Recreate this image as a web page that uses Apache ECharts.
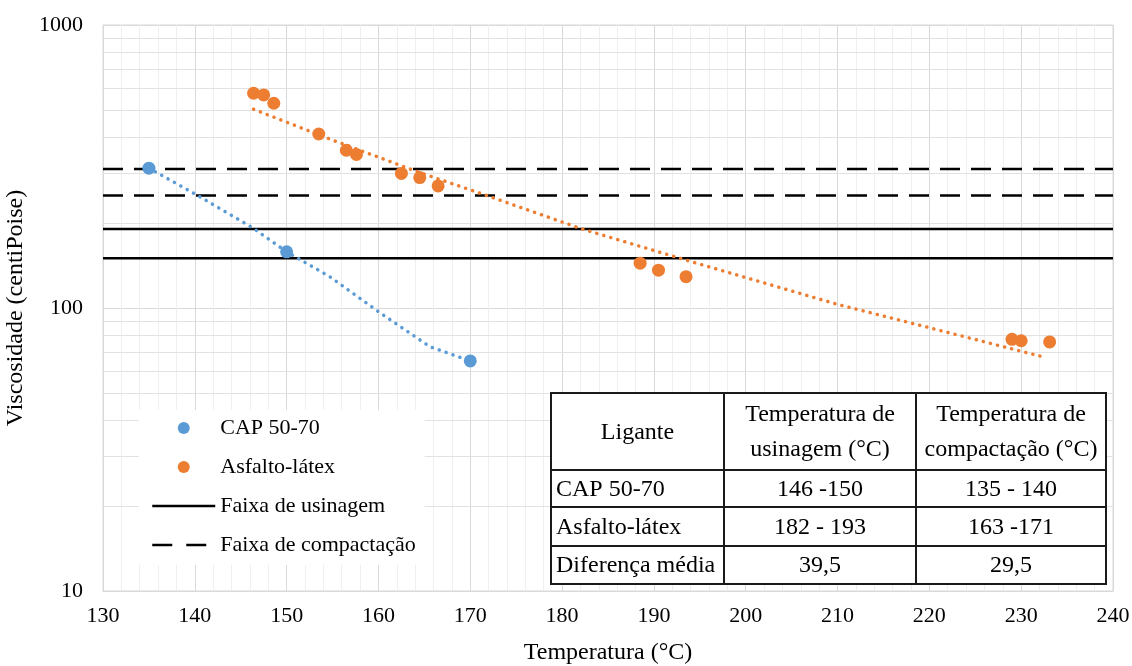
<!DOCTYPE html>
<html>
<head>
<meta charset="utf-8">
<script src="https://cdn.jsdelivr.net/npm/echarts@6/dist/echarts.min.js"></script>
<style>
html,body{margin:0;padding:0;background:#fff;}
#chart{width:1132px;height:666px;}
</style>
</head>
<body>
<div id="chart"></div>
<script>
// ---- data ----
const xTicks = [130, 240, 10];           // min, max, interval of temperature axis
const capTemp = [135, 150, 170];
const capVisc = [312, 158, 65];
const latexTemp = [146.4, 147.5, 148.6, 153.5, 156.5, 157.6, 162.5, 164.5, 166.5, 188.5, 190.5, 193.5, 229.0, 230.0, 233.1];
const latexVisc = [574, 566, 529, 412, 361, 349, 299, 289, 270, 144, 136, 129, 77.5, 76.6, 75.9];
const capTrendTemp = [135, 140.2, 146.3, 150, 154.7, 160.2, 165.6, 170];
const capTrendVisc = [312, 251, 192, 158, 129, 96, 73, 65];
const latexTrendTemp = [146.4, 155, 164.5, 171.6, 182, 193.7, 210, 219.5, 232.3];
const latexTrendVisc = [504, 392, 301, 251, 191, 147, 103, 86, 67.3];
const usinagemLimits = [190, 150];
const compactacaoLimits = [310, 250];
const minorLogValues = [20, 30, 40, 50, 60, 70, 80, 90, 200, 300, 400, 500, 600, 700, 800, 900];
const seriesNames = ['CAP 50-70', 'Asfalto-látex', 'Faixa de usinagem', 'Faixa de compactação'];
const tableHeader = ['Ligante', 'Temperatura de\nusinagem (°C)', 'Temperatura de\ncompactação (°C)'];
const tableRows = [
  ['CAP 50-70', '146 -150', '135 - 140'],
  ['Asfalto-látex', '182 - 193', '163 -171'],
  ['Diferença média', '39,5', '29,5']
];

// ---- build ----
const FONT = 'Liberation Serif';
const BLUE = '#5B9BD5', ORANGE = '#ED7D31';
const zip = (a, b) => a.map((v, i) => [v, b[i]]);
const xMin = xTicks[0], xMax = xTicks[1], xInt = xTicks[2];
const DASH = [20, 11];

const series = [];
// minor log gridlines (helper, not in legend)
series.push({
  type: 'line', name: '_grid', data: [], z: 1, silent: true,
  markLine: {
    silent: true, z: 1, symbol: ['none', 'none'], label: {show: false}, animation: false,
    lineStyle: {color: '#e2e2e2', width: 1, type: 'solid'},
    emphasis: {disabled: true},
    data: minorLogValues.map(v => ({yAxis: v}))
  }
});
usinagemLimits.forEach(v => series.push({
  type: 'line', name: seriesNames[2], data: [[xMin, v], [xMax, v]], symbol: 'none',
  lineStyle: {color: '#000', width: 2.5, type: 'solid'}, itemStyle: {color: '#000'}, z: 3
}));
compactacaoLimits.forEach(v => series.push({
  type: 'line', name: seriesNames[3], data: [[xMin, v], [xMax, v]], symbol: 'none',
  lineStyle: {color: '#000', width: 2.5, type: DASH}, itemStyle: {color: '#000'}, z: 3
}));
series.push({
  type: 'line', name: '_capTrend', data: zip(capTrendTemp, capTrendVisc), symbol: 'none', smooth: false,
  lineStyle: {color: BLUE, width: 3.5, type: [0.1, 7.2], cap: 'round'}, z: 4
});
series.push({
  type: 'line', name: '_latexTrend', data: zip(latexTrendTemp, latexTrendVisc), symbol: 'none', smooth: false,
  lineStyle: {color: ORANGE, width: 3.5, type: [0.1, 7.2], cap: 'round'}, z: 4
});
series.push({
  type: 'scatter', name: seriesNames[0], data: zip(capTemp, capVisc), symbol: 'circle', symbolSize: 13,
  itemStyle: {color: BLUE, opacity: 1}, z: 5
});
series.push({
  type: 'scatter', name: seriesNames[1], data: zip(latexTemp, latexVisc), symbol: 'circle', symbolSize: 13,
  itemStyle: {color: ORANGE, opacity: 1}, z: 5
});

// table graphic
const colX = [551, 724, 916, 1106];
const rowY = [393, 470, 507, 546, 584];
const tbl = [];
const TZ = 100;
tbl.push({type: 'rect', z: TZ, shape: {x: colX[0], y: rowY[0], width: colX[3] - colX[0], height: rowY[4] - rowY[0]},
  style: {fill: '#fff', stroke: '#1a1a1a', lineWidth: 2}});
[colX[1], colX[2]].forEach(x => tbl.push({type: 'line', z: TZ + 1, shape: {x1: x, y1: rowY[0], x2: x, y2: rowY[4]},
  style: {stroke: '#1a1a1a', lineWidth: 2}}));
[rowY[1], rowY[2], rowY[3]].forEach(y => tbl.push({type: 'line', z: TZ + 1, shape: {x1: colX[0], y1: y, x2: colX[3], y2: y},
  style: {stroke: '#1a1a1a', lineWidth: 2}}));
tableHeader.forEach((t, c) => tbl.push({type: 'text', z: TZ + 2,
  style: {text: t, x: (colX[c] + colX[c + 1]) / 2, y: (rowY[0] + rowY[1]) / 2 + 1, align: 'center', verticalAlign: 'middle',
    font: '24px "' + FONT + '"', fill: '#000', lineHeight: 35}}));
tableRows.forEach((row, r) => row.forEach((t, c) => tbl.push({type: 'text', z: TZ + 2,
  style: {text: t, x: c === 0 ? colX[0] + 5 : (colX[c] + colX[c + 1]) / 2, y: (rowY[r + 1] + rowY[r + 2]) / 2 + 1,
    align: c === 0 ? 'left' : 'center', verticalAlign: 'middle', font: '24px "' + FONT + '"', fill: '#000'}})));

const chart = echarts.init(document.getElementById('chart'), null, {renderer: 'canvas'});
chart.setOption({
  animation: false,
  backgroundColor: '#fff',
  textStyle: {fontFamily: FONT},
  grid: {left: 103, right: 19, top: 25, bottom: 75, show: true, borderColor: '#d9d9d9', borderWidth: 1,
    backgroundColor: 'transparent', containLabel: false, outerBoundsMode: 'none'},
  xAxis: {
    type: 'value', min: xMin, max: xMax, interval: xInt,
    name: 'Temperatura (°C)', nameLocation: 'middle', nameGap: 50,
    nameTextStyle: {fontFamily: FONT, fontSize: 24, color: '#000'},
    axisLine: {show: true, lineStyle: {color: '#d9d9d9'}},
    axisTick: {show: false},
    axisLabel: {fontFamily: FONT, fontSize: 22, color: '#000', margin: 14},
    splitLine: {show: true, lineStyle: {color: '#d9d9d9', width: 1}},
    minorTick: {show: false, splitNumber: 5},
    minorSplitLine: {show: true, lineStyle: {color: '#efefef', width: 1}}
  },
  yAxis: {
    type: 'log', logBase: 10, min: 10, max: 1000,
    name: 'Viscosidade (centiPoise)', nameLocation: 'middle', nameGap: 70,
    nameTextStyle: {fontFamily: FONT, fontSize: 24, color: '#000'},
    axisLine: {show: true, lineStyle: {color: '#d9d9d9'}},
    axisTick: {show: false},
    axisLabel: {fontFamily: FONT, fontSize: 22, color: '#000', margin: 20, formatter: v => String(Math.round(v))},
    splitLine: {show: true, lineStyle: {color: '#d9d9d9', width: 1}}
  },
  legend: {
    orient: 'vertical', left: 139, top: 410, z: 50,
    backgroundColor: '#fff',
    padding: [7, 9, 9, 12],
    itemWidth: 63, itemHeight: 12, itemGap: 17,
    selectedMode: false,
    textStyle: {fontFamily: FONT, fontSize: 22, color: '#000'},
    data: [
      {name: seriesNames[0], icon: 'circle'},
      {name: seriesNames[1], icon: 'circle'},
      {name: seriesNames[2], itemStyle: {opacity: 0}, lineStyle: {width: 2.5, type: 'solid', color: '#000'}},
      {name: seriesNames[3], itemStyle: {opacity: 0}, lineStyle: {width: 2.5, type: [20, 14], color: '#000'}}
    ]
  },
  graphic: [{type: 'group', z: 100, children: tbl}],
  series: series
});
</script>
</body>
</html>
